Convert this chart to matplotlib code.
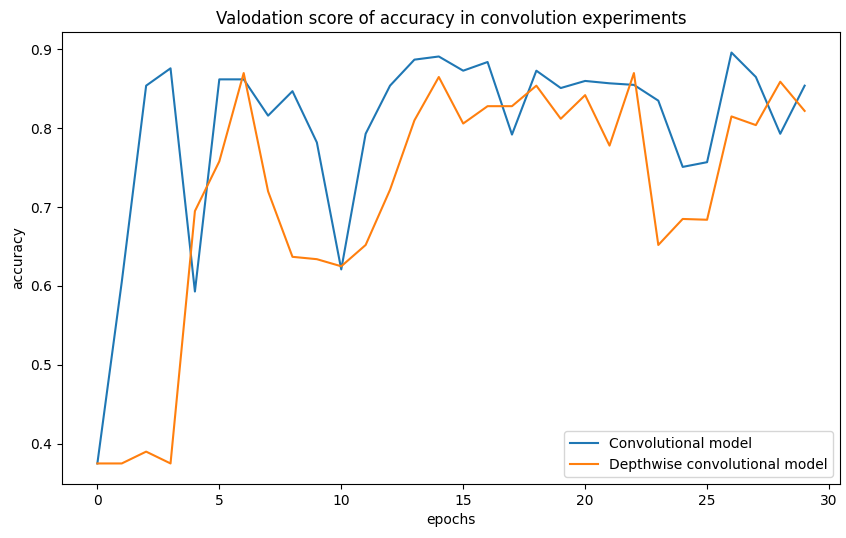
import matplotlib
matplotlib.use("Agg")
import matplotlib.pyplot as plt

epochs = list(range(30))
conv = [0.375, 0.605, 0.854, 0.876, 0.593, 0.862, 0.862, 0.816, 0.847, 0.782,
        0.621, 0.793, 0.854, 0.887, 0.891, 0.873, 0.884, 0.792, 0.873, 0.851,
        0.860, 0.857, 0.855, 0.835, 0.751, 0.757, 0.896, 0.865, 0.793, 0.854]
depth = [0.375, 0.375, 0.390, 0.375, 0.695, 0.758, 0.870, 0.720, 0.637, 0.634,
         0.625, 0.652, 0.722, 0.810, 0.865, 0.806, 0.828, 0.828, 0.854, 0.812,
         0.842, 0.778, 0.870, 0.652, 0.685, 0.684, 0.815, 0.804, 0.859, 0.822]

fig = plt.figure(figsize=(8.46, 5.38), dpi=100)
ax = fig.add_axes([62/846, 1-484/538, (840-62)/846, (484-32)/538])
ax.plot(epochs, conv, label="Convolutional model")
ax.plot(epochs, depth, label="Depthwise convolutional model")
ax.set_title("Valodation score of accuracy in convolution experiments")
ax.set_xlabel("epochs")
ax.set_ylabel("accuracy")
ax.legend(loc="lower right")
fig.savefig("out.png", dpi=100)
